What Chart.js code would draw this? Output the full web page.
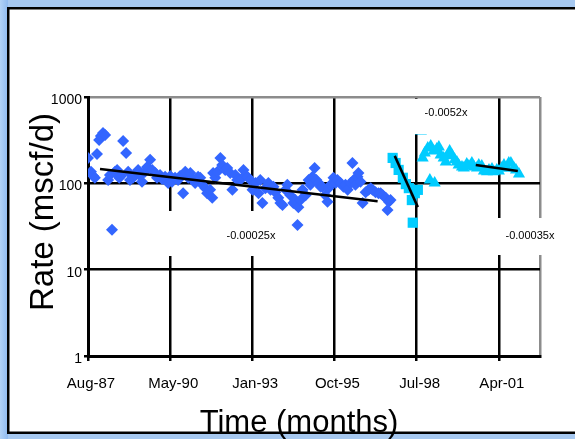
<!DOCTYPE html>
<html><head><meta charset="utf-8">
<script src="https://cdn.jsdelivr.net/npm/chart.js@4/dist/chart.umd.min.js"></script>
<style>html,body{margin:0;padding:0;background:#a6c8f0;overflow:hidden}canvas{display:block}</style>
</head><body><canvas id="c" width="575" height="439"></canvas>
<script>
// ---- tick labels (Excel date axis, 1000-day major unit) ----
const xTickLabels = ["Aug-87", "May-90", "Jan-93", "Oct-95", "Jul-98", "Apr-01"];
const xTickYears  = [1987.61, 1990.35, 1993.08, 1995.82, 1998.56, 2001.30];
const xMin = 1987.61, xMax = 2002.67;
const yTickValues = [1, 10, 100, 1000];
const yTickLabels = ["1", "10", "100", "1000"];

// ---- series: time (decimal year) and rate (mscf/d) ----
const diamondYears = [1987.61,1987.71,1987.78,1987.84,1987.91,1987.98,1988.04,1988.11,1988.18,1988.28,
1988.34,1988.41,1988.51,1988.58,1988.65,1988.71,1988.78,1988.88,1988.95,1989.01,
1989.11,1989.18,1989.28,1989.35,1989.41,1989.51,1989.58,1989.68,1989.75,1989.85,
1989.91,1990.01,1990.08,1990.18,1990.28,1990.35,1990.41,1990.51,1990.61,1990.68,
1990.78,1990.85,1990.95,1991.02,1991.12,1991.18,1991.28,1991.35,1991.42,1991.52,
1991.58,1991.68,1991.75,1991.78,1991.85,1991.92,1992.02,1992.08,1992.18,1992.25,
1992.35,1992.42,1992.52,1992.58,1992.68,1992.79,1992.85,1992.92,1993.02,1993.09,
1993.19,1993.29,1993.35,1993.42,1993.52,1993.62,1993.69,1993.79,1993.85,1993.95,
1994.02,1994.09,1994.19,1994.25,1994.35,1994.45,1994.52,1994.59,1994.62,1994.69,
1994.76,1994.86,1994.96,1995.02,1995.09,1995.16,1995.22,1995.29,1995.36,1995.42,
1995.52,1995.59,1995.62,1995.69,1995.79,1995.86,1995.92,1996.02,1996.12,1996.19,
1996.26,1996.36,1996.42,1996.46,1996.52,1996.59,1996.62,1996.69,1996.76,1996.86,
1996.96,1997.03,1997.09,1997.19,1997.29,1997.36,1997.43,1997.53,1997.59,1997.63,
1997.69];
const diamondRates = [197,136,122,116,219,318,354,384,364,109,
125,29,136,143,116,122,310,225,136,109,
116,125,143,122,104,136,155,187,143,132,
116,125,112,119,101,122,104,116,109,122,
77,136,116,132,109,101,119,116,96,88,
77,84,68,132,116,136,197,163,143,151,
132,84,125,109,109,143,125,119,109,84,
101,77,109,59,88,101,84,91,79,68,
59,56,84,96,73,59,64,33,53,64,
84,73,109,96,119,151,109,101,91,91,
73,61,88,96,116,101,109,101,91,96,
84,101,172,109,96,119,132,104,59,79,
84,88,84,79,77,77,73,68,49,61,
64];
const squareYears = [1997.76,1997.86,1997.96,1998.10,1998.20,1998.30,1998.40,1998.43,1998.50,1998.60];
const squareRates = [197,172,143,116,98,88,64,35,77,84];
const triangleYears = [1998.70,1998.76,1998.83,1998.93,1999.00,1999.03,1999.13,1999.16,1999.23,1999.30,
1999.36,1999.46,1999.53,1999.60,1999.66,1999.73,1999.83,1999.90,1999.96,2000.07,
2000.13,2000.23,2000.30,2000.40,2000.47,2000.57,2000.63,2000.73,2000.80,2000.90,
2000.97,2001.07,2001.13,2001.23,2001.30,2001.40,2001.47,2001.57,2001.63,2001.70,
2001.80,2001.87,2001.97];
const triangleRates = [405,197,225,257,109,271,237,101,250,264,
213,197,177,208,237,213,187,177,163,155,
151,168,159,172,155,151,163,159,139,136,
143,147,136,143,139,151,163,151,172,172,
151,143,128];

// ---- exponential trendlines (end points) ----
const trend1Years = [1988.01, 1997.26], trend1Rates = [147, 62];
const trend2Years = [1997.83, 1998.60], trend2Rates = [208, 53];
const trend3Years = [2000.53, 2001.93], trend3Rates = [163, 139];
const trendLabels = ["-0.00025x", "-0.0052x", "-0.00035x"];

const FONT = '"Liberation Sans", Arial, Helvetica, sans-serif';
const pts = (xs, ys) => xs.map((x, i) => ({x, y: ys[i]}));

const framePlugin = {
  id: 'frame',
  beforeDraw(chart) {
    const c = chart.ctx;
    c.save();
    const g = c.createLinearGradient(0, 0, 10, 0);
    g.addColorStop(0, '#b2d2f6'); g.addColorStop(1, '#86b4ee');
    c.fillStyle = '#a6c8f0';
    c.fillRect(0, 0, 575, 439);
    c.fillStyle = g; c.fillRect(0, 0, 8, 439);
    c.fillStyle = '#fff';
    c.fillRect(8, 8, 600, 425);
    c.strokeStyle = '#000'; c.lineWidth = 2.5;
    c.strokeRect(8.25, 8.25, 600, 424.5);
    c.restore();
  }
};

const overlayPlugin = {
  id: 'overlay',
  afterDraw(chart) {
    const c = chart.ctx;
    c.save();
    // trendline equation labels on white boxes
    const boxes = [
      {x0: 162, y0: 211, x1: 291, y1: 256, tx: 251, ty: 236, t: trendLabels[0]},
      {x0: 405, y0: 99,  x1: 488, y1: 134, tx: 446, ty: 113, t: trendLabels[1]},
      {x0: 490, y0: 218, x1: 575, y1: 255, tx: 530, ty: 236, t: trendLabels[2]}
    ];
    c.font = '11px ' + FONT;
    c.textAlign = 'center'; c.textBaseline = 'middle';
    boxes.forEach(b => {
      c.fillStyle = '#fff';
      c.fillRect(b.x0, b.y0, b.x1 - b.x0, b.y1 - b.y0);
      c.fillStyle = '#000';
      c.fillText(b.t, b.tx, b.ty);
    });
    // axis titles
    c.fillStyle = '#000';
    c.textAlign = 'center'; c.textBaseline = 'alphabetic';
    c.font = '31px ' + FONT;
    c.fillText('Time (months)', 299, 432);
    c.save();
    c.translate(53, 212);
    c.rotate(-Math.PI / 2);
    c.font = '33px ' + FONT;
    c.fillText('Rate (mscf/d)', 0, 0);
    c.restore();
    c.restore();
  }
};

new Chart(document.getElementById('c'), {
  type: 'scatter',
  data: {
    datasets: [
      {data: pts(trend1Years, trend1Rates), showLine: true, borderColor: '#000', borderWidth: 2.5, pointRadius: 0, order: 0},
      {data: pts(trend2Years, trend2Rates), showLine: true, borderColor: '#000', borderWidth: 2.5, pointRadius: 0, order: 0},
      {data: pts(trend3Years, trend3Rates), showLine: true, borderColor: '#000', borderWidth: 2.5, pointRadius: 0, order: 0},
      {data: pts(triangleYears, triangleRates), pointStyle: 'triangle', pointRadius: 7, backgroundColor: '#00ccff', borderColor: '#00ccff', borderWidth: 0, order: 1},
      {data: pts(squareYears, squareRates), pointStyle: 'rect', pointRadius: 7.2, backgroundColor: '#00ccff', borderColor: '#00ccff', borderWidth: 0, order: 2},
      {data: pts(diamondYears, diamondRates), pointStyle: 'rectRot', pointRadius: 6, backgroundColor: '#3366ff', borderColor: '#3366ff', borderWidth: 0, order: 3}
    ]
  },
  options: {
    responsive: false, animation: false, events: [],
    layout: {padding: {top: 97, right: 35, left: 0, bottom: 0}},
    plugins: {legend: {display: false}, tooltip: {enabled: false}},
    scales: {
      x: {
        type: 'linear', min: xMin, max: xMax,
        afterBuildTicks(s) { s.ticks = xTickYears.map(v => ({value: v})).concat([{value: xMax}]); },
        afterFit(s) { s.height = 83; },
        ticks: {autoSkip: false, maxRotation: 0, minRotation: 0, color: '#000', padding: 14, labelOffset: 3,
          font: {family: FONT, size: 15},
          callback: (v, i) => (i < xTickLabels.length ? xTickLabels[i] : '')},
        grid: {
          color: ctx => (ctx.index === xTickYears.length ? '#8c8c8c' : '#000'),
          tickColor: ctx => (ctx.index === xTickYears.length ? 'rgba(0,0,0,0)' : '#000'),
          lineWidth: 2.5, tickLength: 5
        },
        border: {display: true, color: '#000', width: 3}
      },
      y: {
        type: 'logarithmic', min: 1, max: 1000,
        afterBuildTicks(s) { s.ticks = yTickValues.map(v => ({value: v})); },
        afterFit(s) { s.width = 88; },
        ticks: {autoSkip: false, color: '#000', padding: 2, labelOffset: 3,
          font: {family: FONT, size: 14},
          callback: (v, i) => yTickLabels[i]},
        grid: {
          color: ctx => (ctx.tick && ctx.tick.value === 1000 ? '#8c8c8c' : '#000'),
          tickColor: '#000', lineWidth: 2.5, tickLength: 4
        },
        border: {display: true, color: '#000', width: 3}
      }
    }
  },
  plugins: [framePlugin, overlayPlugin]
});
</script>
</body></html>
